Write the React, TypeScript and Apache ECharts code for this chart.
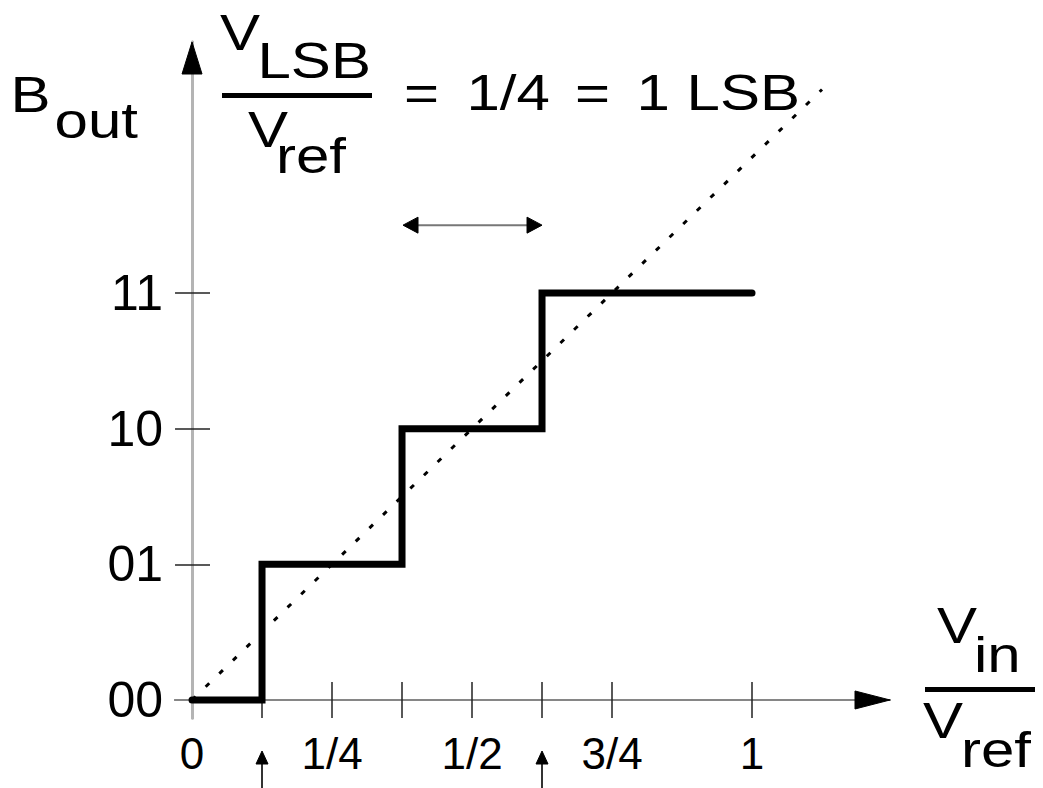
import React, { useEffect, useRef } from 'react';
import * as echarts from 'echarts';

// ---- data ----
const xTickValues = [0.125, 0.25, 0.375, 0.5, 0.625, 0.75, 1];
const xLabelValues = [0, 0.25, 0.5, 0.75, 1];
const xLabelTexts = ['0', '1/4', '1/2', '3/4', '1'];
const yTickValues = [1, 2, 3];
const yLabelValues = [0, 1, 2, 3];
const yLabelTexts = ['00', '01', '10', '11'];
const stepX = [0, 0.125, 0.375, 0.625, 1];
const stepCode = [0, 1, 2, 3, 3];
const idealX = [0, 1.125];
const idealY = [0, 4.5];
const transitionMarks = [0.125, 0.625];
const lsbSpan = [0.375, 0.625];
const lsbSpanLevel = 3.5;
const xRange = [-0.0304, 1.2464];
const yRange = [-0.1327, 4.85];

const FONT = "'Liberation Sans', Arial, Helvetica, sans-serif";

function lookup(values: number[], texts: string[], v: number) {
  const i = values.findIndex((t) => Math.abs(t - v) < 1e-9);
  return i >= 0 ? texts[i] : '';
}

export default function App() {
  const ref = useRef<HTMLDivElement>(null);
  useEffect(() => {
    document.body.style.margin = '0';
    if (!ref.current) return;
    const chart = echarts.init(ref.current, null, { renderer: 'svg' });
    const tickStyle = { color: '#222', width: 1.5 };
    const xLine = { color: '#868686', width: 2 };
    const yLine = { color: '#b4b4b4', width: 3 };
    const option: any = {
      animation: false,
      backgroundColor: '#fff',
      grid: { left: 175, right: 153, top: 42, bottom: 70, containLabel: false, outerBoundsMode: 'none' },
      xAxis: [
        {
          type: 'value', min: xRange[0], max: xRange[1], position: 'bottom',
          axisLine: { onZero: true, lineStyle: xLine },
          axisTick: { show: true, customValues: xTickValues, length: 18, lineStyle: tickStyle },
          axisLabel: {
            customValues: xLabelValues, margin: 13, fontSize: 44, color: '#000', fontFamily: FONT,
            formatter: (v: number) => lookup(xLabelValues, xLabelTexts, v),
          },
          splitLine: { show: false },
        },
        {
          type: 'value', min: xRange[0], max: xRange[1], position: 'top',
          axisLine: { onZero: true, lineStyle: xLine },
          axisTick: { show: true, customValues: xTickValues, length: 18, lineStyle: tickStyle },
          axisLabel: { show: false },
          splitLine: { show: false },
        },
      ],
      yAxis: [
        {
          type: 'value', min: yRange[0], max: yRange[1], position: 'left',
          axisLine: { onZero: true, lineStyle: yLine },
          axisTick: { show: true, customValues: yTickValues, length: 17, lineStyle: tickStyle },
          axisLabel: {
            customValues: yLabelValues, margin: 12, fontSize: 50, color: '#000', fontFamily: FONT,
            formatter: (v: number) => lookup(yLabelValues, yLabelTexts, v),
          },
          splitLine: { show: false },
        },
        {
          type: 'value', min: yRange[0], max: yRange[1], position: 'right',
          axisLine: { onZero: true, lineStyle: yLine },
          axisTick: { show: true, customValues: yTickValues, length: 18, lineStyle: tickStyle },
          axisLabel: { show: false },
          splitLine: { show: false },
        },
      ],
      series: [
        {
          type: 'line', name: 'ideal', xAxisIndex: 0, yAxisIndex: 0,
          data: idealX.map((x, i) => [x, idealY[i]]),
          symbol: 'none', clip: false, z: 1,
          lineStyle: { color: '#000', width: 3, type: [5, 14] },
        },
        {
          type: 'line', name: 'Bout', xAxisIndex: 0, yAxisIndex: 0,
          data: stepX.map((x, i) => [x, stepCode[i]]),
          step: 'end', symbol: 'none', clip: false, z: 3,
          lineStyle: { color: '#000', width: 7, cap: 'round', join: 'miter' },
        },
      ],
    };
    chart.setOption(option);

    const px = (x: number, y: number) => chart.convertToPixel({ seriesIndex: 0 }, [x, y]) as number[];
    const xEnd = px(xRange[1], 0);
    const yEnd = px(0, yRange[1]);
    const s = 1.2;
    const F = 50;
    const txt = (text: string, x: number, baseline: number, size = F) => ({
      type: 'text', x, y: baseline - 0.3465 * size, scaleX: s, scaleY: 1, silent: true,
      style: { text, fontSize: size, fontFamily: FONT, fill: '#000', textAlign: 'left', verticalAlign: 'middle' },
    });
    const tri = (pts: number[][]) => ({ type: 'polygon', z: 10, shape: { points: pts }, style: { fill: '#000', stroke: '#000', lineWidth: 1 } });
    const graphic: any[] = [];
    // axis arrowheads
    graphic.push(tri([[xEnd[0], xEnd[1]], [xEnd[0] - 35, xEnd[1] - 9], [xEnd[0] - 35, xEnd[1] + 9]]));
    graphic.push(tri([[yEnd[0], yEnd[1]], [yEnd[0] - 10, yEnd[1] + 32], [yEnd[0] + 10, yEnd[1] + 32]]));
    // transition markers below the axis
    transitionMarks.forEach((m) => {
      const p = px(m, 0);
      graphic.push({ type: 'line', shape: { x1: p[0], y1: 760, x2: p[0], y2: 790 }, style: { stroke: '#333', lineWidth: 2 } });
      graphic.push(tri([[p[0], 751], [p[0] - 6, 764], [p[0] + 6, 764]]));
    });
    // LSB span double arrow
    const a = px(lsbSpan[0], lsbSpanLevel);
    const b = px(lsbSpan[1], lsbSpanLevel);
    graphic.push({ type: 'line', shape: { x1: a[0] + 10, y1: a[1], x2: b[0] - 10, y2: b[1] }, style: { stroke: '#777', lineWidth: 2 } });
    graphic.push(tri([[a[0] + 1, a[1]], [a[0] + 16, a[1] - 8], [a[0] + 16, a[1] + 8]]));
    graphic.push(tri([[b[0], b[1]], [b[0] - 15, b[1] - 8], [b[0] - 15, b[1] + 8]]));
    // axis titles and formula
    graphic.push(txt('B', 10.6, 112));
    graphic.push(txt('out', 54.6, 138));
    graphic.push(txt('V', 220, 50));
    graphic.push(txt('LSB', 257.5, 78));
    graphic.push({ type: 'rect', shape: { x: 222, y: 93, width: 150, height: 5 }, style: { fill: '#000' } });
    graphic.push(txt('V', 248, 147));
    graphic.push(txt('ref', 276, 173));
    graphic.push(txt('=', 404, 110));
    graphic.push(txt('1/4', 466.5, 110));
    graphic.push(txt('=', 575, 110));
    graphic.push(txt('1 LSB', 636.5, 110));
    graphic.push(txt('V', 937, 643));
    graphic.push(txt('in', 974, 672));
    graphic.push({ type: 'rect', shape: { x: 925, y: 687, width: 110, height: 5 }, style: { fill: '#000' } });
    graphic.push(txt('V', 923, 738));
    graphic.push(txt('ref', 961, 767));
    chart.setOption({ graphic });

    return () => chart.dispose();
  }, []);
  return <div ref={ref} style={{ position: 'absolute', left: 0, top: 0, width: 1043, height: 788 }} />;
}
